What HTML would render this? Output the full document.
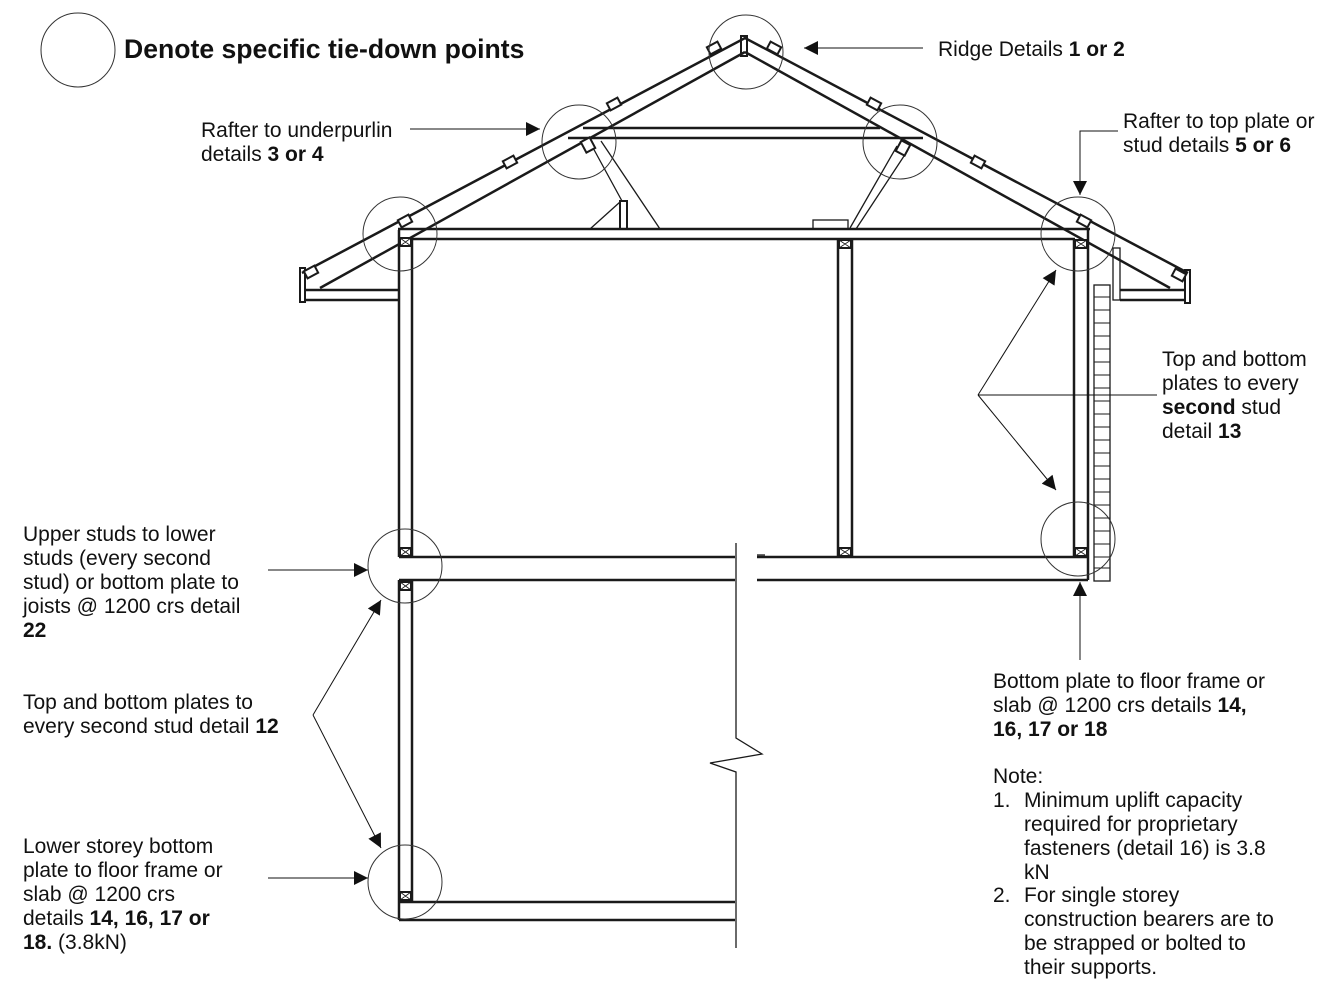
<!DOCTYPE html>
<html><head><style>
body{margin:0;background:#fff;}
svg{display:block;font-family:"Liberation Sans",Arial,sans-serif;}
</style></head><body>
<svg width="1337" height="992" viewBox="0 0 1337 992" xmlns="http://www.w3.org/2000/svg">
<defs>
<marker id="a" viewBox="0 0 10 10" refX="10" refY="5" markerWidth="16" markerHeight="14" markerUnits="userSpaceOnUse" orient="auto"><path d="M0,0L10,5L0,10z" fill="#111"/></marker>
</defs>
<g fill="none" stroke="#1a1a1a" stroke-width="2.5">
<polyline points="302,273 745,38 1188,273"/>
<line x1="320" y1="288" x2="745" y2="52"/>
<line x1="745" y1="52" x2="1170" y2="288"/>
<rect x="741" y="36" width="6" height="20" stroke-width="2"/>
<line x1="583" y1="128" x2="880" y2="128"/>
<line x1="568" y1="138" x2="923" y2="138"/>
<line x1="398" y1="229" x2="1090" y2="229"/>
<line x1="412" y1="239" x2="1075" y2="239"/>
<line x1="399" y1="230" x2="399" y2="557"/>
<line x1="412" y1="239" x2="412" y2="557"/>
<line x1="399" y1="580" x2="399" y2="920"/>
<line x1="412" y1="580" x2="412" y2="902"/>
<line x1="838" y1="239" x2="838" y2="557"/>
<line x1="852" y1="239" x2="852" y2="557"/>
<line x1="1074" y1="239" x2="1074" y2="557"/>
<line x1="1088" y1="229" x2="1088" y2="580"/>
<line x1="399" y1="557" x2="735" y2="557"/>
<line x1="399" y1="580" x2="735" y2="580"/>
<line x1="757" y1="557" x2="1088" y2="557"/>
<line x1="757" y1="580" x2="1088" y2="580"/>
<line x1="399" y1="902" x2="735" y2="902"/>
<line x1="399" y1="920" x2="735" y2="920"/>
<line x1="305" y1="290" x2="398" y2="290"/>
<line x1="305" y1="300" x2="398" y2="300"/>
<rect x="300" y="268" width="5" height="34" stroke-width="2"/>
<line x1="1120" y1="290" x2="1185" y2="290"/>
<line x1="1120" y1="300" x2="1185" y2="300"/>
<rect x="1185" y="270" width="5" height="33" stroke-width="2"/>
</g>
<g fill="none" stroke="#1a1a1a" stroke-width="1.3">
<rect x="1113" y="248" width="7" height="52"/>
<line x1="592" y1="146" x2="622" y2="201"/>
<line x1="601" y1="141" x2="660" y2="229"/>
<line x1="590" y1="229" x2="620" y2="202"/>
<rect x="620" y="201" width="7" height="28" stroke-width="2"/>
<line x1="897" y1="146" x2="850" y2="228"/>
<line x1="908" y1="150" x2="856" y2="229"/>
<rect x="813" y="220" width="35" height="9"/>
<polyline points="736,543 736,738 762,754 710,763 736,772 736,948"/>
<line x1="757" y1="555" x2="765" y2="555"/>
<rect x="1094" y="285" width="16" height="296"/>
</g>
<g stroke="#1a1a1a" stroke-width="1">
<path d="M1094 297H1110M1094 310H1110M1094 323H1110M1094 336H1110M1094 349H1110M1094 362H1110M1094 375H1110M1094 388H1110M1094 401H1110M1094 414H1110M1094 427H1110M1094 440H1110M1094 453H1110M1094 466H1110M1094 479H1110M1094 492H1110M1094 505H1110M1094 518H1110M1094 531H1110M1094 544H1110M1094 557H1110M1094 568H1110"/>
</g>
<g fill="#fff" stroke="#1a1a1a" stroke-width="2">
<rect x="400" y="238" width="11" height="8"/><rect x="400" y="548" width="11" height="8"/>
<rect x="400" y="582" width="11" height="8"/><rect x="400" y="892" width="11" height="8"/>
<rect x="839" y="240" width="12" height="8"/><rect x="839" y="548" width="12" height="8"/>
<rect x="1075" y="240" width="12" height="8"/><rect x="1075" y="548" width="12" height="8"/>
<rect x="-6" y="-4" width="12" height="8" transform="translate(311,272) rotate(-28)"/>
<rect x="-6" y="-4" width="12" height="8" transform="translate(405,221) rotate(-28)"/>
<rect x="-6" y="-4" width="12" height="8" transform="translate(510,162) rotate(-28)"/>
<rect x="-6" y="-4" width="12" height="8" transform="translate(614,104) rotate(-28)"/>
<rect x="-6" y="-4" width="12" height="8" transform="translate(714,48) rotate(-28)"/>
<rect x="-6" y="-4" width="12" height="8" transform="translate(774,48) rotate(28)"/>
<rect x="-6" y="-4" width="12" height="8" transform="translate(874,104) rotate(28)"/>
<rect x="-6" y="-4" width="12" height="8" transform="translate(978,162) rotate(28)"/>
<rect x="-6" y="-4" width="12" height="8" transform="translate(1084,221) rotate(28)"/>
<rect x="-6" y="-4" width="12" height="8" transform="translate(1179,275) rotate(28)"/>
<rect x="-5" y="-6" width="10" height="12" transform="translate(588,145) rotate(-28)"/>
<rect x="-5" y="-6" width="10" height="12" transform="translate(903,148) rotate(28)"/>
</g>
<g stroke="#1a1a1a" stroke-width="0.8">
<path d="M400 238l11 8M411 238l-11 8M400 548l11 8M411 548l-11 8M400 582l11 8M411 582l-11 8M400 892l11 8M411 892l-11 8M839 240l12 8M851 240l-12 8M839 548l12 8M851 548l-12 8M1075 240l12 8M1087 240l-12 8M1075 548l12 8M1087 548l-12 8"/>
</g>
<g fill="none" stroke="#333" stroke-width="1">
<circle cx="78" cy="50" r="37"/>
<circle cx="746" cy="52" r="37"/>
<circle cx="579" cy="142" r="37"/>
<circle cx="900" cy="142" r="37"/>
<circle cx="400" cy="234" r="37"/>
<circle cx="1078" cy="234" r="37"/>
<circle cx="405" cy="566" r="37"/>
<circle cx="405" cy="882" r="37"/>
<circle cx="1078" cy="539" r="37"/>
</g>
<g fill="none" stroke="#111" stroke-width="1" marker-end="url(#a)">
<line x1="923" y1="48" x2="804" y2="48"/>
<line x1="410" y1="129" x2="540" y2="129"/>
<polyline points="1118,131 1080,131 1080,195"/>
<line x1="978" y1="395" x2="1056" y2="270"/>
<line x1="978" y1="395" x2="1056" y2="490"/>
<line x1="268" y1="570" x2="368" y2="570"/>
<line x1="313" y1="715" x2="381" y2="600"/>
<line x1="313" y1="715" x2="381" y2="848"/>
<line x1="268" y1="878" x2="368" y2="878"/>
<line x1="1080" y1="660" x2="1080" y2="582"/>
</g>
<line x1="978" y1="395" x2="1157" y2="395" stroke="#111" stroke-width="1"/>
<g fill="#111" font-size="21">
<text x="124" y="58" font-size="26.6" font-weight="bold">Denote specific tie-down points</text>
<text x="938" y="56">Ridge Details <tspan font-weight="bold">1 or 2</tspan></text>
<text x="201" y="137">Rafter to underpurlin</text>
<text x="201" y="161">details <tspan font-weight="bold">3 or 4</tspan></text>
<text x="1123" y="128">Rafter to top plate or</text>
<text x="1123" y="152">stud details <tspan font-weight="bold">5 or 6</tspan></text>
<text x="1162" y="366">Top and bottom</text>
<text x="1162" y="390">plates to every</text>
<text x="1162" y="414"><tspan font-weight="bold">second</tspan> stud</text>
<text x="1162" y="438">detail <tspan font-weight="bold">13</tspan></text>
<text x="23" y="541">Upper studs to lower</text>
<text x="23" y="565">studs (every second</text>
<text x="23" y="589">stud) or bottom plate to</text>
<text x="23" y="613">joists @ 1200 crs detail</text>
<text x="23" y="637" font-weight="bold">22</text>
<text x="23" y="709">Top and bottom plates to</text>
<text x="23" y="733">every second stud detail <tspan font-weight="bold">12</tspan></text>
<text x="23" y="853">Lower storey bottom</text>
<text x="23" y="877">plate to floor frame or</text>
<text x="23" y="901">slab @ 1200 crs</text>
<text x="23" y="925">details <tspan font-weight="bold">14, 16, 17 or</tspan></text>
<text x="23" y="949"><tspan font-weight="bold">18.</tspan> (3.8kN)</text>
<text x="993" y="688">Bottom plate to floor frame or</text>
<text x="993" y="712">slab @ 1200 crs details <tspan font-weight="bold">14,</tspan></text>
<text x="993" y="736" font-weight="bold">16, 17 or 18</text>
<text x="993" y="783">Note:</text>
<text x="993" y="807">1.</text>
<text x="1024" y="807">Minimum uplift capacity</text>
<text x="1024" y="831">required for proprietary</text>
<text x="1024" y="855">fasteners (detail 16) is 3.8</text>
<text x="1024" y="879">kN</text>
<text x="993" y="902">2.</text>
<text x="1024" y="902">For single storey</text>
<text x="1024" y="926">construction bearers are to</text>
<text x="1024" y="950">be strapped or bolted to</text>
<text x="1024" y="974">their supports.</text>
</g>
</svg>
</body></html>
